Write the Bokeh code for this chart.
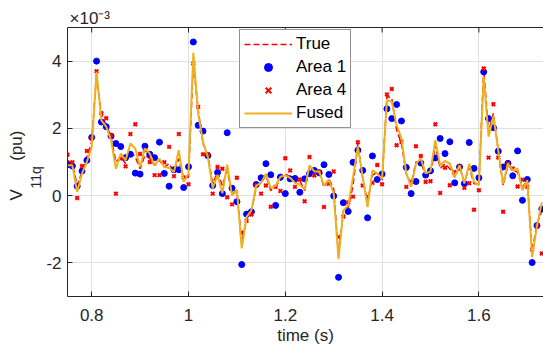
from bokeh.plotting import figure
from bokeh.models import (LinearAxis, FixedTicker, Legend, LegendItem, Title,
                          Range1d, ColumnDataSource)
from bokeh.embed import file_html
from bokeh.resources import INLINE

# ---- data (values in units of 1e-3 pu) ----
time_s = [0.75, 0.76, 0.77, 0.78, 0.79, 0.80, 0.81, 0.82, 0.83, 0.84,
          0.85, 0.86, 0.87, 0.88, 0.89, 0.90, 0.91, 0.92, 0.93, 0.94,
          0.95, 0.96, 0.97, 0.98, 0.99, 1.00, 1.01, 1.02, 1.03, 1.04,
          1.05, 1.06, 1.07, 1.08, 1.09, 1.10, 1.11, 1.12, 1.13, 1.14,
          1.15, 1.16, 1.17, 1.18, 1.19, 1.20, 1.21, 1.22, 1.23, 1.24,
          1.25, 1.26, 1.27, 1.28, 1.29, 1.30, 1.31, 1.32, 1.33, 1.34,
          1.35, 1.36, 1.37, 1.38, 1.39, 1.40, 1.41, 1.42, 1.43, 1.44,
          1.45, 1.46, 1.47, 1.48, 1.49, 1.50, 1.51, 1.52, 1.53, 1.54,
          1.55, 1.56, 1.57, 1.58, 1.59, 1.60, 1.61, 1.62, 1.63, 1.64,
          1.65, 1.66, 1.67, 1.68, 1.69, 1.70, 1.71, 1.72, 1.73]

v_true = [1.05, 0.95, 0.30, 0.70, 1.15, 1.60, 3.62, 2.40, 2.10, 1.75,
          1.00, 1.15, 0.95, 1.30, 1.15, 0.80, 1.20, 1.10, 0.90, 1.05,
          0.85, 0.95, 0.70, 1.10, 0.50, 0.55, 3.95, 2.55, 1.55, 1.20,
          0.35, 0.70, 0.30, 0.75, 0.05, 0.15, -1.40, -0.70, -0.45, 0.25,
          0.40, 0.60, 0.15, 0.30, 0.45, 0.65, 0.55, 0.40, 0.45, 0.15,
          0.85, 0.75, 0.70, 0.25, 0.50, 0.20, -1.80, -0.45, -0.35, 0.30,
          1.55, 0.50, -0.20, 0.60, 0.70, 0.45, 2.95, 2.90, 1.95, 1.55,
          0.65, 0.35, 1.00, 1.00, 0.60, 0.60, 1.50, 0.80, 0.95, 0.80,
          0.55, 0.85, 0.40, 0.85, 0.35, 0.35, 3.75, 1.90, 2.45, 1.35,
          0.30, 0.90, 0.75, 0.70, 0.25, 0.45, -1.65, -0.85, -0.45]

v_area1 = [0.92, 0.88, 0.28, 0.73, 1.05, 1.73, 4.00, 2.19, 2.05, 1.77,
           1.55, 1.46, 1.13, 1.23, 0.67, 0.64, 1.47, 1.23, 1.13, 1.59,
           0.66, 0.28, 0.77, 0.77, 0.24, 0.86, 4.57, 2.09, 1.92, 1.19,
           0.30, 0.69, 0.06, 1.87, 0.22, -0.18, -2.05, -0.55, -0.48, 0.33,
           0.53, 0.95, 0.62, -0.29, 0.55, 0.06, 0.50, 0.51, 0.10, 0.50,
           0.65, 0.75, 0.68, 0.92, 0.63, -0.01, -2.43, -0.21, -0.47, 0.99,
           1.35, 0.75, -0.66, 1.18, 0.48, 0.64, 2.58, 2.29, 2.71, 2.22,
           0.84, 0.06, 0.42, 0.97, 0.61, 0.74, 1.12, 1.70, 1.25, 1.60,
           0.38, 0.85, 0.36, 1.58, 0.81, 0.53, 3.68, 2.29, 2.02, 1.32,
           0.85, 0.96, 0.59, 1.33, -0.14, 0.48, -1.99, -0.89, -0.40]

v_area4 = [1.22, 0.99, -0.07, 0.88, 1.33, 1.70, 3.70, 2.45, 2.30, 1.80,
           0.06, 1.10, 0.87, 1.83, 2.12, 1.24, 1.35, 1.00, 0.61, 0.61,
           0.99, 1.45, 0.58, 1.83, 0.54, 0.34, 3.93, 2.64, 1.23, 1.23,
           0.06, 0.85, 0.80, -0.05, -0.26, 0.53, -1.10, -0.75, -0.56, 0.30,
           0.06, 0.30, -0.33, 0.26, 0.14, 1.11, 0.75, 0.26, 0.48, -0.17,
           1.15, 0.60, 0.71, -0.34, 0.35, 0.72, -1.23, -0.62, -0.20, -0.03,
           1.59, 0.30, -0.03, 0.38, 0.91, 0.34, 3.01, 3.17, 1.50, 1.60,
           0.26, 0.40, 1.47, 1.18, 0.41, 0.43, 2.12, 0.08, 0.83, 0.31,
           0.70, 0.86, 0.23, 0.37, -0.42, 0.16, 3.78, 1.13, 2.72, 1.13,
           -0.48, 0.95, 0.81, 0.27, 0.47, 0.26, -1.60, -0.88, -1.72]

v_fused = [0.90, 0.90, 0.11, 0.66, 1.00, 1.45, 3.68, 2.24, 2.05, 1.65,
           0.80, 1.25, 1.05, 1.55, 1.40, 0.85, 1.40, 1.25, 0.90, 1.10,
           0.85, 0.83, 0.70, 1.35, 0.41, 0.66, 4.25, 2.44, 1.60, 1.15,
           0.22, 0.62, 0.07, 0.92, 0.00, 0.17, -1.57, -0.63, -0.44, 0.30,
           0.38, 0.65, 0.22, 0.30, 0.56, 0.60, 0.53, 0.38, 0.33, 0.18,
           0.90, 0.72, 0.72, 0.30, 0.48, 0.06, -1.89, -0.44, -0.29, 0.55,
           1.46, 0.55, -0.34, 0.75, 0.66, 0.50, 2.84, 2.79, 2.10, 1.70,
           0.66, 0.26, 0.95, 1.10, 0.66, 0.72, 1.65, 0.90, 1.03, 0.95,
           0.56, 0.90, 0.36, 0.95, 0.41, 0.31, 3.54, 1.75, 2.36, 1.35,
           0.36, 0.95, 0.75, 0.80, 0.16, 0.46, -1.83, -0.90, -0.20]

x_ticks = [0.8, 1.0, 1.2, 1.4, 1.6]
x_tick_labels = ["0.8", "1", "1.2", "1.4", "1.6"]
y_ticks = [-2, 0, 2, 4]
y_tick_labels = ["-2", "0", "2", "4"]

FONT = "Liberation Sans"
AX_COL = "#262626"
NB = "\u00a0"
X_LO, X_HI = 0.75, 1.7335
Y_LO, Y_HI = -3, 5
FRAME_H = 353 - 27 - 57          # frame height in px
TICK_PX = 5

src = ColumnDataSource(dict(t=time_s, tru=v_true, a1=v_area1, a4=v_area4, fu=v_fused))

p = figure(width=543, height=353, output_backend="svg", toolbar_location=None,
           x_range=Range1d(X_LO, X_HI), y_range=Range1d(Y_LO, Y_HI),
           x_axis_location="below", y_axis_location="left",
           min_border_left=67, min_border_right=0, min_border_top=27,
           min_border_bottom=57)
p.outline_line_color = None
p.background_fill_color = "white"
p.border_fill_color = "white"

xax = p.below[0]
yax = p.left[0]

def style_axis(ax, ticks, labels):
    ax.ticker = FixedTicker(ticks=ticks)
    ax.major_label_overrides = {float(k): s for k, s in zip(ticks, labels)}
    ax.major_tick_in = TICK_PX
    ax.major_tick_out = 0
    ax.minor_tick_line_color = None
    ax.axis_line_color = AX_COL
    ax.axis_line_width = 1
    ax.major_tick_line_color = AX_COL
    ax.major_label_text_font = FONT
    ax.major_label_text_color = AX_COL
    ax.major_label_text_font_size = "17px"

style_axis(xax, x_ticks, x_tick_labels)
xax.major_label_standoff = 12
xax.axis_label = "time (s)"
xax.axis_label_text_font = FONT
xax.axis_label_text_font_size = "17px"
xax.axis_label_text_font_style = "normal"
xax.axis_label_text_color = AX_COL
xax.axis_label_standoff = 2

style_axis(yax, y_ticks, y_tick_labels)
yax.major_label_standoff = 6
yax.axis_label = None

# top frame line
top_axis = LinearAxis(ticker=FixedTicker(ticks=[]), axis_line_color=AX_COL,
                      minor_tick_line_color=None, major_tick_line_color=None)
p.add_layout(top_axis, "above")

p.xgrid.ticker = FixedTicker(ticks=x_ticks)
p.ygrid.ticker = FixedTicker(ticks=y_ticks)
for g in (p.xgrid, p.ygrid):
    g.grid_line_color = "#e0e0e0"
    g.grid_line_width = 1

# inward tick marks on the top edge of the box (at the x tick positions)
tick_len = TICK_PX * (Y_HI - Y_LO) / FRAME_H
p.segment(x0=x_ticks, x1=x_ticks, y0=[Y_HI] * len(x_ticks),
          y1=[Y_HI - tick_len] * len(x_ticks), line_color=AX_COL, line_width=1)

r_true = p.line("t", "tru", source=src, line_color="#FF0000", line_dash="6 3", line_width=1.5)
r_a1 = p.scatter("t", "a1", source=src, marker="circle", size=6,
                 fill_color="#0000FF", line_color="#0000FF")
r_a4 = p.scatter("t", "a4", source=src, marker="x", size=5,
                 line_color="#FF0000", line_width=2)
r_fu = p.line("t", "fu", source=src, line_color="#EDB120", line_width=2)

legend = Legend(items=[LegendItem(label="True", renderers=[r_true]),
                       LegendItem(label="Area 1", renderers=[r_a1]),
                       LegendItem(label="Area 4", renderers=[r_a4]),
                       LegendItem(label="Fused", renderers=[r_fu])],
                location=(172, 168))
legend.border_line_color = AX_COL
legend.border_line_width = 1
legend.background_fill_color = "white"
legend.background_fill_alpha = 1
legend.label_text_font = FONT
legend.label_text_font_size = "17px"
legend.label_text_color = "#000000"
legend.glyph_width = 48
legend.glyph_height = 20
legend.label_height = 20
legend.spacing = 3
legend.padding = 4
legend.margin = 0
legend.label_standoff = 4
p.add_layout(legend)

def side_title(text, size, offset):
    return Title(text=text, align="left", offset=offset, vertical_align="bottom",
                 standoff=0, text_font=FONT, text_font_size=size,
                 text_font_style="normal", text_color=AX_COL)

# y-axis title: V_{11q} (pu)  (subscript column nearer the axis)
p.add_layout(side_title("11q", "14px", 108), "left")
p.add_layout(side_title("V" + NB * 6 + "(pu)", "17px", 96), "left")
# exponent of the y axis
p.add_layout(side_title("\u00d710\u207b\u00b3", "17px", 2), "above")

open("out.html", "w").write(file_html(p, INLINE))
